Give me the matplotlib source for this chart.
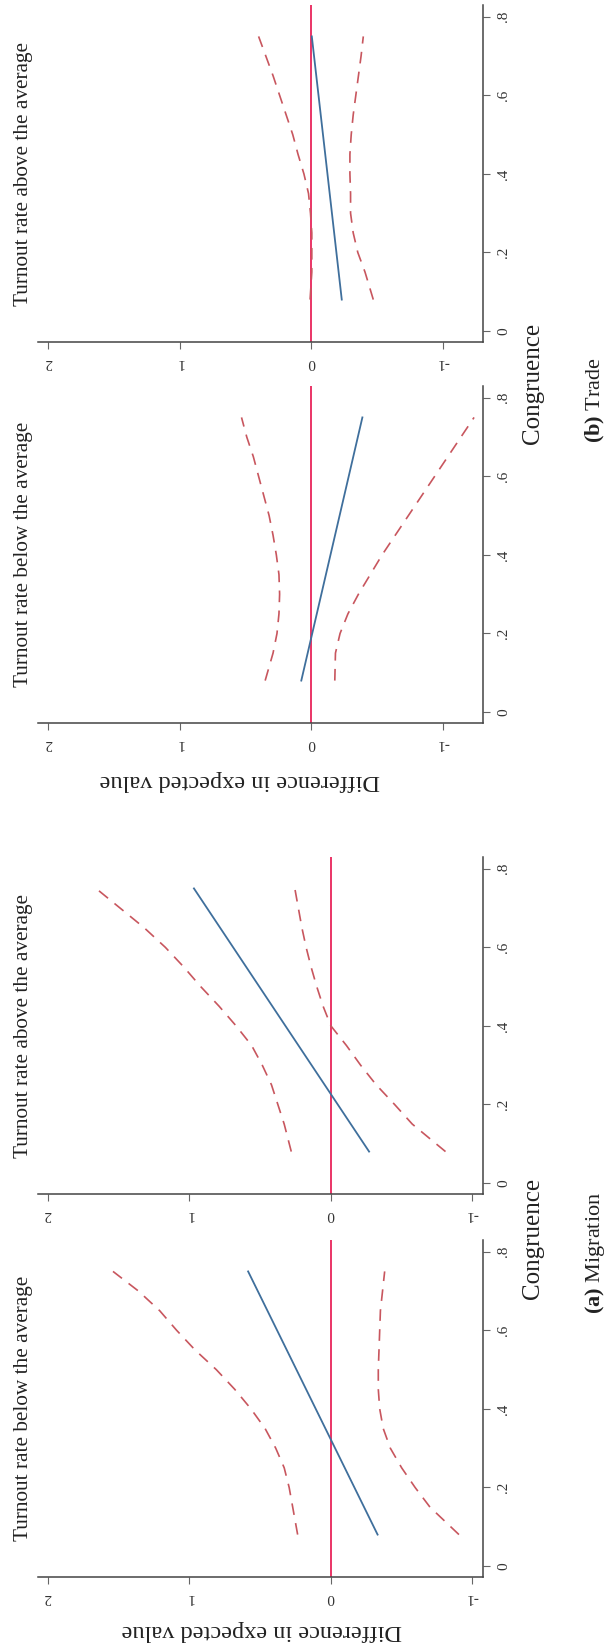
import matplotlib
matplotlib.use("Agg")
import matplotlib.pyplot as plt

plt.rcParams["font.family"] = ["Liberation Serif", "DejaVu Serif"]
plt.rcParams["mathtext.fontset"] = "custom"
plt.rcParams["mathtext.bf"] = "Liberation Serif:bold"
plt.rcParams["mathtext.rm"] = "Liberation Serif"

# congruence values where the curves were read
ci_grid = [0.08, 0.15, 0.2, 0.25, 0.3, 0.35, 0.4, 0.45, 0.5, 0.55, 0.6, 0.65, 0.7, 0.75]
est_grid = [0.08, 0.75]

# (a) Migration, turnout below average
mig_below_est = [-0.33, 0.585]
mig_below_hi = [0.235, 0.27, 0.295, 0.33, 0.39, 0.465, 0.565, 0.68, 0.81, 0.96, 1.09, 1.21, 1.36, 1.54]
mig_below_lo = [-0.905, -0.70, -0.595, -0.50, -0.42, -0.37, -0.345, -0.335, -0.335, -0.34, -0.345, -0.35, -0.365, -0.38]

# (a) Migration, turnout above average
mig_above_est = [-0.27, 0.968]
mig_above_hi = [0.28, 0.33, 0.375, 0.42, 0.485, 0.56, 0.67, 0.79, 0.92, 1.04, 1.17, 1.32, 1.49, 1.66]
mig_above_lo = [-0.81, -0.575, -0.45, -0.32, -0.21, -0.11, 0.0, 0.055, 0.10, 0.14, 0.175, 0.205, 0.23, 0.255]

# (b) Trade, turnout below average
trade_below_est = [0.075, -0.39]
trade_below_hi = [0.35, 0.29, 0.26, 0.245, 0.24, 0.245, 0.265, 0.29, 0.32, 0.36, 0.40, 0.44, 0.49, 0.53]
trade_below_lo = [-0.18, -0.185, -0.22, -0.28, -0.36, -0.45, -0.54, -0.64, -0.74, -0.84, -0.94, -1.04, -1.14, -1.24]

# (b) Trade, turnout above average
trade_above_est = [-0.233, -0.005]
trade_above_hi = [0.008, -0.005, -0.005, -0.005, 0.005, 0.02, 0.055, 0.10, 0.14, 0.19, 0.24, 0.29, 0.345, 0.40]
trade_above_lo = [-0.473, -0.41, -0.355, -0.32, -0.30, -0.30, -0.295, -0.295, -0.305, -0.32, -0.34, -0.36, -0.38, -0.397]

value_ticks = [2, 1, 0, -1]
cong_ticks = [0, 0.2, 0.4, 0.6, 0.8]
cong_labels = ["0", ".2", ".4", ".6", ".8"]

W, H = 610, 1648
fig = plt.figure(figsize=(W / 100, H / 100), dpi=100)

BLUE = "#3F6F9C"
DASH = "#C8565E"
ZERO = "#E8245A"


def panel(bottom_px, est, hi, lo, xlim, title):
    # plot region is 445 px wide, ~337 px tall (figure pixels), page turned on its side
    ax = fig.add_axes([38 / W, (H - bottom_px) / H, 445 / W, 337 / H])
    ax.axvline(0, color=ZERO, lw=1.3, zorder=1)
    ax.plot(hi, ci_grid, color=DASH, lw=1.2, dashes=(7, 5))
    ax.plot(lo, ci_grid, color=DASH, lw=1.2, dashes=(7, 5))
    ax.plot(est, est_grid, color=BLUE, lw=1.3)
    ax.set_xlim(*xlim)
    ax.set_ylim(-0.028, 0.83)
    for s in ["top", "left"]:
        ax.spines[s].set_visible(False)
    for s in ["bottom", "right"]:
        ax.spines[s].set_color("#444444")
        ax.spines[s].set_linewidth(1.1)
    ax.yaxis.tick_right()
    ax.set_xticks(value_ticks)
    ax.set_xticklabels([str(v) for v in value_ticks], rotation=180)
    ax.set_yticks(cong_ticks)
    ax.set_yticklabels(cong_labels, rotation=90, va="center")
    ax.tick_params(length=5, width=0.8, color="#666666", labelsize=11,
                   labelcolor="#333333", pad=5)
    top_px = bottom_px - 337
    fig.text(24 / W, 1 - (top_px + bottom_px) / 2 / H, title, rotation=90,
             ha="center", va="center", fontsize=15.3, color="#222222")
    return ax


panel(1577, mig_below_est, mig_below_hi, mig_below_lo, (2.07, -1.075),
      "Turnout rate below the average")
panel(1194, mig_above_est, mig_above_hi, mig_above_lo, (2.07, -1.075),
      "Turnout rate above the average")
panel(723, trade_below_est, trade_below_hi, trade_below_lo, (2.079, -1.308),
      "Turnout rate below the average")
panel(342, trade_above_est, trade_above_hi, trade_above_lo, (2.079, -1.308),
      "Turnout rate above the average")


def ftxt(x, y, s, rot, size):
    fig.text(x / W, 1 - y / H, s, rotation=rot, ha="center", va="center",
             fontsize=size, color="#222222")


ftxt(262, 1630, "Difference in expected value", 180, 17.5)
ftxt(240, 780, "Difference in expected value", 180, 17.5)
ftxt(533, 1238, "Congruence", 90, 18)
ftxt(533, 383, "Congruence", 90, 18)
ftxt(595, 1253, r"$\mathbf{(a)}$ Migration", 90, 16)
ftxt(595, 400, r"$\mathbf{(b)}$ Trade", 90, 16)

fig.savefig("out.png", dpi=100, facecolor="white")
